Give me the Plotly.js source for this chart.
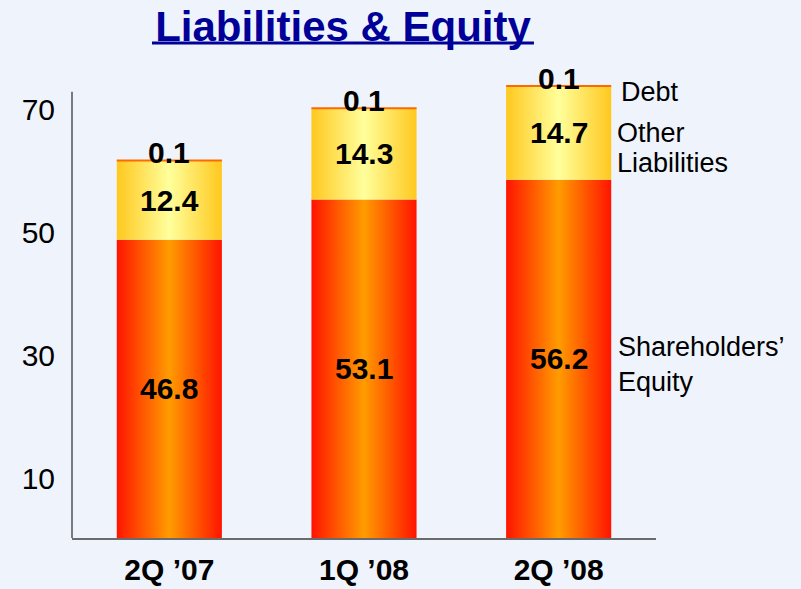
<!DOCTYPE html>
<html>
<head>
<meta charset="utf-8">
<script src="https://cdn.plot.ly/plotly-3.0.1.min.js"></script>
<style>html,body{margin:0;padding:0;background:#EFF4FC;}#chart{width:801px;height:589px;}</style>
</head>
<body>
<div id="chart"></div>
<script>
// ---- data ----
const categories = ["2Q ’07", "1Q ’08", "2Q ’08"];
const equity = [46.8, 53.1, 56.2];
const otherLiabilities = [12.4, 14.3, 14.7];
const debt = [0.1, 0.1, 0.1];
const yTickValues = [10, 30, 50, 70];
const seriesNames = ["Shareholders’", "Equity", "Other", "Liabilities", "Debt"];

// ---- styling ----
const FONT = "Liberation Sans, Arial, sans-serif";
const BAR_W = 0.54;
const gradEquity = [[0, "#ff1400"], [0.5, "#ff9c00"], [1, "#ff1400"]];
const gradOther = [[0, "#ffc81e"], [0.5, "#ffff9c"], [1, "#ffc81e"]];
const gradDebt = [[0, "#ff6a00"], [1, "#ff6a00"]];

const traces = [];
const annotations = [];
const series = [
  {vals: equity, grad: gradEquity, line: 0, lc: "rgba(0,0,0,0)", label: "mid"},
  {vals: otherLiabilities, grad: gradOther, line: 0, lc: "rgba(0,0,0,0)", label: "mid"},
  {vals: debt, grad: gradDebt, line: 2, lc: "#ff6a00", label: "top"}
];
const base = categories.map(() => 0);
series.forEach(s => {
  categories.forEach((c, i) => {
    const b = base[i], t = b + s.vals[i];
    traces.push({
      type: "scatter", mode: "lines",
      x: [i - BAR_W / 2, i + BAR_W / 2, i + BAR_W / 2, i - BAR_W / 2, i - BAR_W / 2],
      y: [b, b, t, t, b],
      fill: "toself",
      fillgradient: {type: "horizontal", colorscale: s.grad},
      fillcolor: s.grad[1][1],
      line: {width: s.line, color: s.lc},
      hoverinfo: "skip", showlegend: false, xaxis: "x", yaxis: "y"
    });
    annotations.push({
      xref: "x", yref: "y", x: i,
      y: s.label === "mid" ? b + s.vals[i] / 2 : t,
      yshift: s.label === "mid" ? 0 : 7,
      text: "<b>" + s.vals[i].toFixed(1) + "</b>",
      showarrow: false, xanchor: "center", yanchor: "middle",
      font: {family: FONT, size: 30, color: "#000"}
    });
    base[i] = t;
  });
});

// dummy trace for the label axis
traces.push({type: "scatter", x: [0], y: [yTickValues[0]], mode: "markers",
  marker: {opacity: 0}, xaxis: "x", yaxis: "y2", hoverinfo: "skip", showlegend: false});

// series labels on the right
const sideLabels = [
  {t: seriesNames[4], y: 0.972, x: 0.936},
  {t: seriesNames[2], y: 0.882, x: 0.929},
  {t: seriesNames[3], y: 0.817, x: 0.929},
  {t: seriesNames[0], y: 0.416, x: 0.931},
  {t: seriesNames[1], y: 0.340, x: 0.931}
];
sideLabels.forEach(l => annotations.push({
  xref: "paper", yref: "paper", x: l.x, y: l.y, text: l.t, showarrow: false,
  xanchor: "left", yanchor: "middle", font: {family: FONT, size: 27, color: "#000"}
}));

const layout = {
  width: 801, height: 589,
  margin: {l: 72, r: 145, t: 79, b: 51},
  paper_bgcolor: "#EFF4FC", plot_bgcolor: "rgba(0,0,0,0)",
  title: {
    text: "<b>Liabilities & Equity</b>",
    font: {family: FONT, size: 42, color: "#000099"},
    xref: "container", yref: "container", x: 343 / 801, xanchor: "center",
    y: 1 - 26 / 589, yanchor: "middle"
  },
  xaxis: {
    range: [-0.5, 2.5], tickvals: categories.map((c, i) => i), ticktext: categories,
    showgrid: false, zeroline: false, showline: true, linecolor: "#6b6b6b", linewidth: 2,
    ticks: "", ticklabelstandoff: 4,
    tickfont: {family: FONT, size: 30, color: "#000", weight: "bold"}, fixedrange: true
  },
  yaxis: {
    range: [0, 72], showgrid: false, zeroline: false, showline: false,
    showticklabels: false, ticks: "", fixedrange: true
  },
  yaxis2: {
    overlaying: "y", anchor: "x", side: "left", range: [0.24, 74.9],
    tickvals: yTickValues, ticktext: yTickValues.map(String),
    showgrid: false, zeroline: false, showline: false, ticks: "",
    ticklabelstandoff: 16,
    tickfont: {family: FONT, size: 30, color: "#000"}, fixedrange: true
  },
  shapes: [
    {type: "line", xref: "paper", yref: "y", x0: 0, x1: 0, y0: 0, y1: 70,
     line: {color: "#000", width: 1}},
    {type: "line", xref: "paper", yref: "paper", x0: 0.137, x1: 0.791, y0: 1.0784, y1: 1.0784,
     line: {color: "#000099", width: 3}}
  ],
  annotations: annotations,
  showlegend: false
};

Plotly.newPlot("chart", traces, layout, {staticPlot: true, displayModeBar: false});
</script>
</body>
</html>
